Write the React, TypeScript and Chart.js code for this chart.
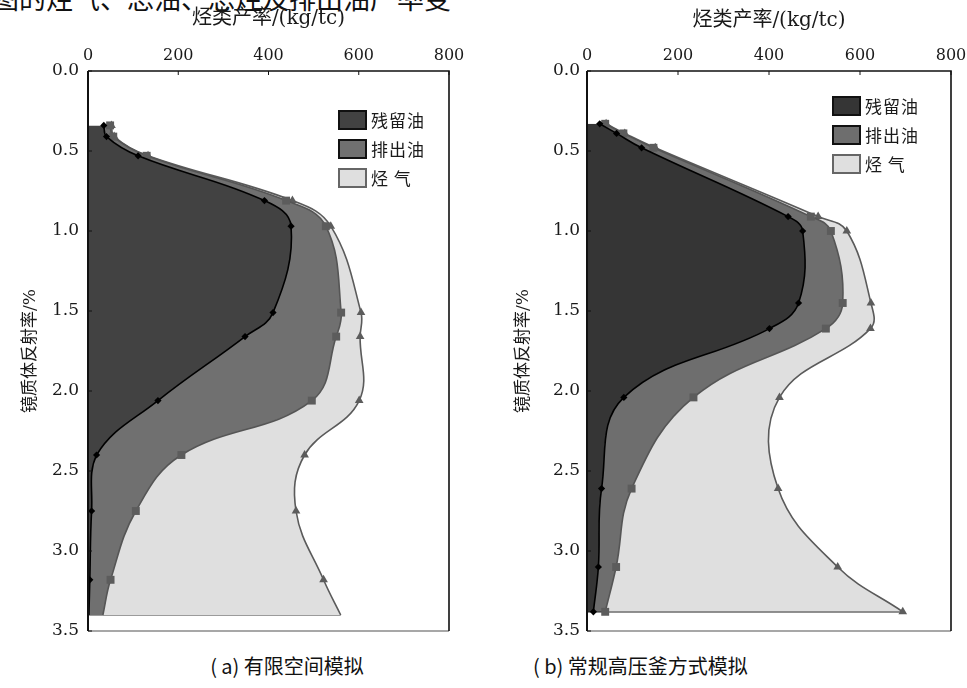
import React, { useEffect, useRef } from "react";
import { Chart, registerables } from "chart.js";

Chart.register(...registerables);

// ---------- data ----------
const RO_A = [0.34, 0.41, 0.53, 0.81, 0.97, 1.51, 1.66, 2.06, 2.4, 2.75, 3.18, 3.4];
const RESIDUAL_A = [35, 41, 111, 391, 450, 410, 348, 155, 19, 8, 4, 2];
const EXPELLED_A = [49, 56, 130, 439, 527, 561, 550, 496, 207, 106, 50, 33];
const GAS_A = [52, 58, 133, 453, 538, 605, 603, 601, 480, 461, 522, 560];

const RO_B = [0.33, 0.39, 0.48, 0.91, 1.0, 1.45, 1.61, 2.04, 2.61, 3.1, 3.38];
const RESIDUAL_B = [28, 65, 120, 442, 474, 465, 401, 81, 32, 25, 14];
const EXPELLED_B = [40, 80, 146, 492, 536, 562, 525, 234, 98, 64, 40];
const GAS_B = [42, 83, 150, 508, 571, 624, 623, 423, 420, 551, 694];

const X_TICKS = [0, 200, 400, 600, 800];
const Y_TICKS = [0, 0.5, 1.0, 1.5, 2.0, 2.5, 3.0, 3.5];
const SERIES_NAMES = ["残留油", "排出油", "烃 气"];
const X_TITLE = "烃类产率/(kg/tc)";
const Y_TITLE = "镜质体反射率/%";
const CAPTIONS = ["( a) 有限空间模拟", "( b) 常规高压釜方式模拟"];
const TOP_TEXT = "图的烃气、总油、总烃及排出油产率变";

const SERIF = "'DejaVu Serif', 'Noto Sans CJK SC', serif";
const FILLS_A = ["#424242", "#707070", "#dfdfdf"];
const FILLS_B = ["#353535", "#6e6e6e", "#dfdfdf"];

const framePlugin = {
  id: "frame",
  afterDraw(chart: any) {
    const { ctx } = chart;
    const { left, right, top, bottom } = chart.chartArea;
    ctx.save();
    ctx.lineWidth = 1.5;
    ctx.strokeStyle = "#8a8a8a";
    ctx.beginPath();
    ctx.moveTo(left, bottom);
    ctx.lineTo(right, bottom);
    ctx.stroke();
    ctx.strokeStyle = "#111";
    ctx.lineWidth = 1.6;
    ctx.beginPath();
    ctx.moveTo(right, bottom);
    ctx.lineTo(right, top);
    ctx.lineTo(left, top);
    ctx.stroke();
    ctx.lineWidth = 2;
    ctx.beginPath();
    ctx.moveTo(left, top);
    ctx.lineTo(left, bottom);
    ctx.stroke();
    ctx.lineWidth = 1;
    const xs = chart.scales.x;
    const ys = chart.scales.y;
    ctx.beginPath();
    X_TICKS.forEach((v) => {
      const px = xs.getPixelForValue(v);
      ctx.moveTo(px, top);
      ctx.lineTo(px, top + 4);
    });
    Y_TICKS.forEach((v) => {
      const py = ys.getPixelForValue(v);
      ctx.moveTo(left, py);
      ctx.lineTo(left + 4, py);
    });
    ctx.stroke();
    ctx.restore();
  },
};

type PanelProps = {
  ro: number[];
  resid: number[];
  expel: number[];
  gas: number[];
  fills: string[];
  left: number;
  width: number;
  yAxisWidth: number;
  padRight: number;
  yTitlePad: number;
  xTitlePad: number;
  yTickPad: number;
  lastMarker: boolean;
  baseColor: string;
};

function Panel(p: PanelProps) {
  const ref = useRef<HTMLCanvasElement>(null);
  useEffect(() => {
    if (!ref.current) return;
    const n = p.ro.length;
    const pts = (vals: number[]) => p.ro.map((r, i) => ({ x: vals[i], y: r }));
    const rad = (r: number) => p.ro.map((_, i) => (i === n - 1 && !p.lastMarker ? 0 : r));
    const chart = new Chart(ref.current, {
      type: "line",
      data: {
        datasets: [
          {
            label: SERIES_NAMES[0],
            data: pts(p.resid),
            fill: "origin",
            backgroundColor: p.fills[0],
            borderColor: "#000",
            borderWidth: 1.6,
            pointStyle: "rectRot",
            pointRadius: rad(3.6),
            pointBackgroundColor: "#000",
            pointBorderColor: "#000",
            pointBorderWidth: 0,
            tension: 0.4,
          },
          {
            label: SERIES_NAMES[1],
            data: pts(p.expel),
            fill: "-1",
            backgroundColor: p.fills[1],
            borderColor: "#555",
            borderWidth: 1.6,
            pointStyle: "rect",
            pointRadius: rad(5.6),
            pointBackgroundColor: "#5c5c5c",
            pointBorderColor: "#5c5c5c",
            pointBorderWidth: 0,
            tension: 0.4,
          },
          {
            label: SERIES_NAMES[2],
            data: pts(p.gas),
            fill: "-1",
            backgroundColor: p.fills[2],
            borderColor: "#5a5a5a",
            borderWidth: 1.6,
            pointStyle: "triangle",
            pointRadius: rad(5),
            pointBackgroundColor: "#5c5c5c",
            pointBorderColor: "#5c5c5c",
            pointBorderWidth: 0,
            tension: 0.4,
          },
          {
            label: "base",
            data: [
              { x: 0, y: p.ro[n - 1] },
              { x: p.gas[n - 1], y: p.ro[n - 1] },
            ],
            fill: false,
            borderColor: p.baseColor,
            borderWidth: 1.6,
            pointRadius: 0,
            tension: 0,
          },
        ],
      } as any,
      options: {
        indexAxis: "y",
        responsive: false,
        animation: false,
        events: [],
        layout: { padding: { left: 0, right: p.padRight, top: 0, bottom: 9 } },
        plugins: { legend: { display: false }, tooltip: { enabled: false } },
        scales: {
          x: {
            type: "linear",
            position: "top",
            min: 0,
            max: 800,
            afterBuildTicks: (s: any) => {
              s.ticks = X_TICKS.map((v) => ({ value: v }));
            },
            grid: { display: false, drawTicks: false },
            border: { display: false },
            ticks: {
              color: "#1a1a1a",
              font: { family: SERIF, size: 16 },
              padding: 6,
              maxRotation: 0,
              autoSkip: false,
            },
            title: {
              display: true,
              text: X_TITLE,
              color: "#1a1a1a",
              font: { family: SERIF, size: 20 },
              padding: { top: p.xTitlePad, bottom: 0 },
            },
            afterFit: (s: any) => {
              s.height = 71;
              s.paddingLeft = 0;
              s.paddingRight = 0;
            },
          },
          y: {
            type: "linear",
            position: "left",
            reverse: true,
            min: 0,
            max: 3.5,
            afterBuildTicks: (s: any) => {
              s.ticks = Y_TICKS.map((v) => ({ value: v }));
            },
            grid: { display: false, drawTicks: false },
            border: { display: false },
            ticks: {
              color: "#1a1a1a",
              font: { family: SERIF, size: 17 },
              padding: p.yTickPad,
              autoSkip: false,
              callback: (v: any) => Number(v).toFixed(1),
            },
            title: {
              display: true,
              text: Y_TITLE,
              color: "#1a1a1a",
              font: { family: SERIF, size: 17 },
              padding: { top: p.yTitlePad, bottom: 0 },
            },
            afterFit: (s: any) => {
              s.width = p.yAxisWidth;
              s.paddingTop = 0;
              s.paddingBottom = 0;
            },
          },
        },
      } as any,
      plugins: [framePlugin],
    });
    return () => chart.destroy();
  }, []);
  return (
    <canvas
      ref={ref}
      width={p.width}
      height={640}
      style={{ position: "absolute", left: p.left, top: 0, width: p.width, height: 640 }}
    />
  );
}

function Legend({ left, top, gap, fills }: { left: number; top: number; gap: number; fills: string[] }) {
  const borders = ["#111", "#111", "#666"];
  return (
    <div style={{ position: "absolute", left, top }}>
      {SERIES_NAMES.map((name, i) => (
        <div
          key={name}
          style={{ position: "absolute", left: 0, top: i * gap, display: "flex", alignItems: "center", whiteSpace: "nowrap" }}
        >
          <div
            style={{
              width: 25,
              height: 16,
              background: fills[i],
              border: `2px solid ${borders[i]}`,
            }}
          />
          <span
            style={{
              marginLeft: 4,
              fontFamily: "'Noto Sans CJK SC', sans-serif",
              fontSize: 17,
              lineHeight: "20px",
              color: "#1a1a1a",
              letterSpacing: 1,
            }}
          >
            {name}
          </span>
        </div>
      ))}
    </div>
  );
}

export default function App() {
  return (
    <div
      style={{
        position: "absolute",
        left: 0,
        top: 0,
        width: 967,
        height: 688,
        background: "#fff",
        overflow: "hidden",
      }}
    >
      <div
        style={{
          position: "absolute",
          left: -8,
          top: -16,
          fontSize: 27,
          lineHeight: "27px",
          whiteSpace: "nowrap",
          fontFamily: "'Noto Sans CJK SC', sans-serif",
          fontWeight: 400,
          color: "#111",
        }}
      >
        {TOP_TEXT}
      </div>
      <Panel
        ro={RO_A}
        resid={RESIDUAL_A}
        expel={EXPELLED_A}
        gas={GAS_A}
        fills={FILLS_A}
        left={0}
        width={480}
        yAxisWidth={88}
        padRight={31}
        yTitlePad={20}
        xTitlePad={7}
        yTickPad={9}
        lastMarker={false}
        baseColor="#7a7a7a"
      />
      <Panel
        ro={RO_B}
        resid={RESIDUAL_B}
        expel={EXPELLED_B}
        gas={GAS_B}
        fills={FILLS_B}
        left={480}
        width={487}
        yAxisWidth={107}
        padRight={16}
        yTitlePad={33}
        xTitlePad={9}
        yTickPad={7}
        lastMarker={true}
        baseColor="#222"
      />
      <Legend left={338} top={110} gap={29} fills={FILLS_A} />
      <Legend left={832} top={96} gap={29} fills={FILLS_B} />
      {CAPTIONS.map((c, i) => (
        <div
          key={c}
          style={{
            position: "absolute",
            left: i === 0 ? 187 : 533,
            width: 200,
            top: 653,
            textAlign: "center",
            fontFamily: "'Noto Sans CJK SC', sans-serif",
            fontSize: 20,
            lineHeight: "26px",
            color: "#111",
            whiteSpace: "nowrap",
          }}
        >
          {c}
        </div>
      ))}
    </div>
  );
}
